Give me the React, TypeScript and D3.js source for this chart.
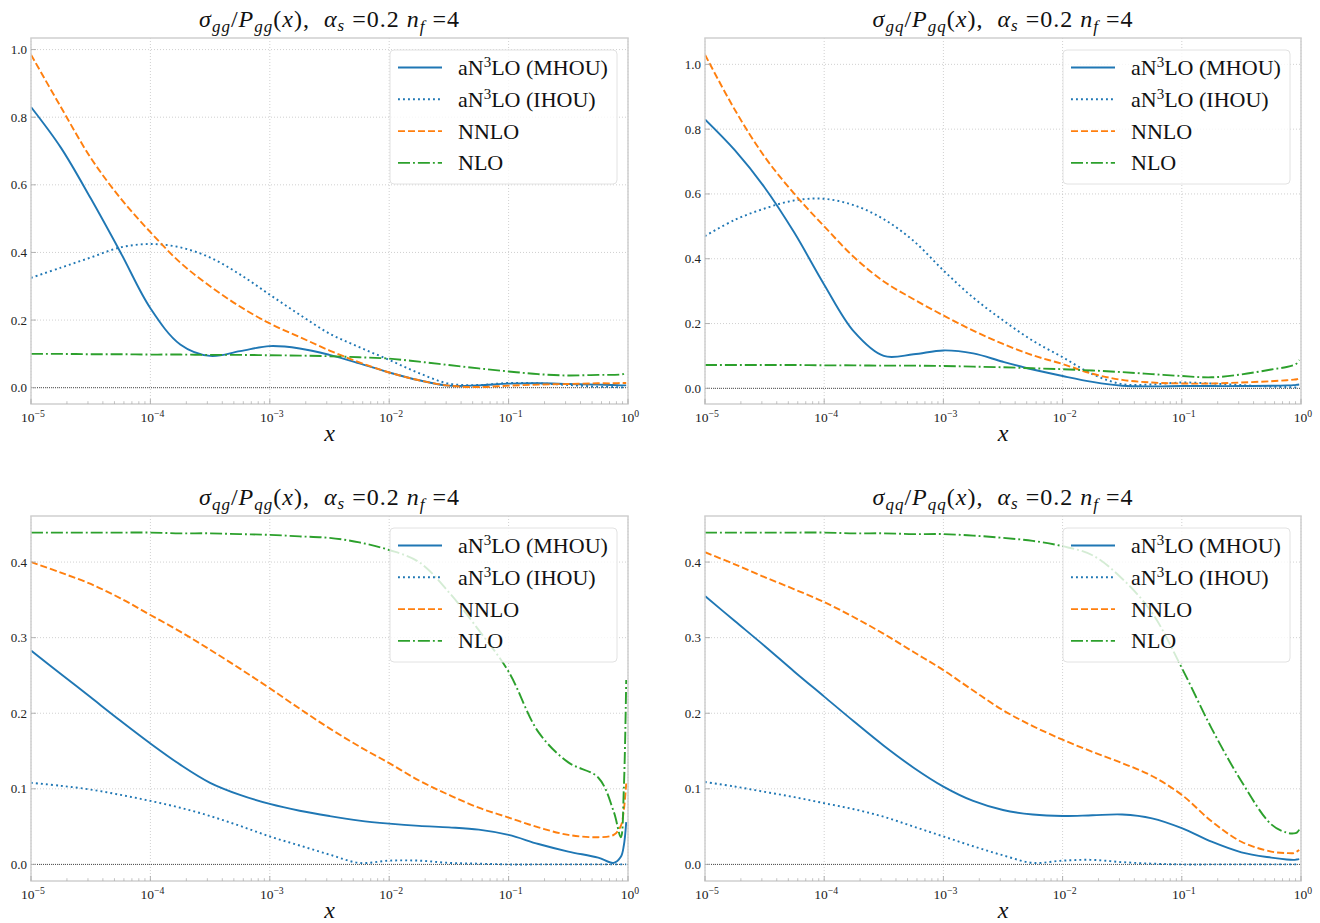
import React from 'react';
import * as d3 from 'd3';

// log10(x) sample positions of the curves
const LOGX = [-5, -4.75, -4.5, -4.25, -4, -3.75, -3.5, -3.25, -3, -2.75, -2.5, -2.25, -2, -1.75, -1.5, -1.25, -1, -0.75, -0.5, -0.25, -0.12, -0.06, -0.035, -0.015];
const X_VALUES = LOGX.map((e) => Math.pow(10, e));

// sigma_gg / P_gg
const GG_MHOU = [0.83, 0.71, 0.56, 0.40, 0.235, 0.128, 0.094, 0.108, 0.123, 0.116, 0.097, 0.072, 0.045, 0.022, 0.006, 0.007, 0.012, 0.013, 0.011, 0.009, 0.008, 0.007, 0.007, 0.007];
const GG_IHOU = [0.325, 0.355, 0.385, 0.415, 0.425, 0.415, 0.385, 0.335, 0.275, 0.216, 0.16, 0.12, 0.082, 0.043, 0.012, 0.008, 0.014, 0.013, 0.008, 0.003, 0.002, 0.001, 0.001, 0.001];
const GG_NNLO = [0.985, 0.83, 0.68, 0.56, 0.46, 0.37, 0.30, 0.24, 0.19, 0.15, 0.11, 0.075, 0.045, 0.022, 0.006, 0.002, 0.006, 0.009, 0.011, 0.013, 0.013, 0.014, 0.014, 0.014];
const GG_NLO = [0.1, 0.1, 0.099, 0.099, 0.098, 0.098, 0.097, 0.097, 0.096, 0.095, 0.093, 0.09, 0.086, 0.077, 0.067, 0.057, 0.048, 0.04, 0.036, 0.038, 0.038, 0.039, 0.041, 0.045];

// sigma_gq / P_gq
const GQ_MHOU = [0.83, 0.735, 0.62, 0.48, 0.32, 0.175, 0.10, 0.105, 0.117, 0.108, 0.082, 0.058, 0.038, 0.02, 0.008, 0.006, 0.007, 0.007, 0.007, 0.008, 0.009, 0.01, 0.011, 0.012];
const GQ_IHOU = [0.47, 0.52, 0.555, 0.58, 0.585, 0.565, 0.522, 0.455, 0.364, 0.28, 0.21, 0.147, 0.096, 0.044, 0.013, 0.012, 0.018, 0.015, 0.01, 0.005, 0.004, 0.003, 0.003, 0.003];
const GQ_NNLO = [1.03, 0.86, 0.715, 0.6, 0.5, 0.405, 0.33, 0.275, 0.225, 0.178, 0.137, 0.102, 0.075, 0.045, 0.026, 0.018, 0.015, 0.015, 0.018, 0.022, 0.025, 0.027, 0.028, 0.03];
const GQ_NLO = [0.072, 0.072, 0.072, 0.072, 0.071, 0.071, 0.07, 0.07, 0.069, 0.067, 0.065, 0.062, 0.059, 0.055, 0.05, 0.044, 0.038, 0.034, 0.043, 0.058, 0.066, 0.072, 0.077, 0.088];

// sigma_qg / P_qg
const QG_MHOU = [0.283, 0.252, 0.221, 0.19, 0.16, 0.132, 0.108, 0.092, 0.08, 0.071, 0.064, 0.058, 0.054, 0.051, 0.049, 0.046, 0.039, 0.027, 0.017, 0.009, 0.002, 0.01, 0.025, 0.056];
const QG_IHOU = [0.108, 0.104, 0.099, 0.092, 0.084, 0.075, 0.064, 0.051, 0.037, 0.025, 0.013, 0.002, 0.005, 0.005, 0.002, 0.001, 0, 0, 0, 0, 0, 0, 0, 0];
const QG_NNLO = [0.40, 0.386, 0.371, 0.352, 0.33, 0.308, 0.284, 0.259, 0.233, 0.206, 0.18, 0.156, 0.134, 0.111, 0.092, 0.075, 0.062, 0.049, 0.039, 0.036, 0.039, 0.051, 0.072, 0.107];
const QG_NLO = [0.439, 0.439, 0.439, 0.439, 0.439, 0.438, 0.438, 0.437, 0.436, 0.434, 0.432, 0.426, 0.416, 0.40, 0.36, 0.31, 0.255, 0.175, 0.135, 0.115, 0.07, 0.036, 0.10, 0.244];

// sigma_qq / P_qq
const QQ_MHOU = [0.355, 0.322, 0.289, 0.255, 0.222, 0.189, 0.157, 0.128, 0.103, 0.084, 0.072, 0.066, 0.064, 0.065, 0.066, 0.061, 0.048, 0.03, 0.016, 0.009, 0.0065, 0.006, 0.0065, 0.007];
const QQ_IHOU = [0.109, 0.103, 0.096, 0.089, 0.081, 0.073, 0.063, 0.05, 0.037, 0.024, 0.012, 0.002, 0.005, 0.006, 0.003, 0.001, 0, 0, 0, 0, 0, 0, 0, 0];
const QQ_NNLO = [0.413, 0.397, 0.38, 0.364, 0.347, 0.327, 0.305, 0.281, 0.257, 0.23, 0.204, 0.183, 0.165, 0.149, 0.134, 0.117, 0.092, 0.057, 0.03, 0.017, 0.015, 0.015, 0.017, 0.019];
const QQ_NLO = [0.439, 0.439, 0.439, 0.439, 0.439, 0.438, 0.438, 0.437, 0.437, 0.435, 0.432, 0.428, 0.421, 0.409, 0.378, 0.333, 0.26, 0.18, 0.11, 0.053, 0.042, 0.041, 0.042, 0.046];

const SERIES_LABELS = ['MHOU', 'IHOU', 'NNLO', 'NLO'];
const Y_TICKS_BIG = [0, 0.2, 0.4, 0.6, 0.8, 1.0];
const Y_TICKS_SMALL = [0, 0.1, 0.2, 0.3, 0.4];
const X_MAJOR_EXP = [-5, -4, -3, -2, -1, 0];
const PANEL_SUBS = ['gg', 'gq', 'qg', 'qq'];

const PANEL_DATA = [
  [GG_MHOU, GG_IHOU, GG_NNLO, GG_NLO],
  [GQ_MHOU, GQ_IHOU, GQ_NNLO, GQ_NLO],
  [QG_MHOU, QG_IHOU, QG_NNLO, QG_NLO],
  [QQ_MHOU, QQ_IHOU, QQ_NNLO, QQ_NLO],
];
const PANEL_YTICKS = [Y_TICKS_BIG, Y_TICKS_BIG, Y_TICKS_SMALL, Y_TICKS_SMALL];

const LAYOUT = [
  { L: 31, R: 628, T: 38, B: 404 },
  { L: 705, R: 1301, T: 38, B: 404 },
  { L: 31, R: 628, T: 516, B: 881 },
  { L: 705, R: 1301, T: 516, B: 881 },
];

const STYLES = [
  { color: '#1f77b4', dash: null, width: 1.9 },
  { color: '#1f77b4', dash: '1.9 3.1', width: 1.9 },
  { color: '#ff7f0e', dash: '7 3', width: 1.9 },
  { color: '#2ca02c', dash: '12 3 1.9 3', width: 1.9 },
];

const FONT = '"Liberation Serif", "DejaVu Serif", serif';
const FRAME = '#cfcfcf';
const GRID = '#c4c4c4';

function Sup({ base, exp, size }: { base: string; exp: string; size: number }) {
  return (
    <>
      <tspan>{base}</tspan>
      <tspan fontSize={size * 0.72} dy={-size * 0.4}>{exp}</tspan>
    </>
  );
}

function Title({ cx, y, sub }: { cx: number; y: number; sub: string }) {
  const fs = 24;
  const ss = 17;
  return (
    <text x={cx} y={y} textAnchor="middle" fontFamily={FONT} fontSize={fs} letterSpacing={1} style={{ whiteSpace: 'pre' }} fill="#111">
      <tspan fontStyle="italic">σ</tspan>
      <tspan fontStyle="italic" fontSize={ss} dy={5}>{sub}</tspan>
      <tspan dy={-5}>/</tspan>
      <tspan fontStyle="italic">P</tspan>
      <tspan fontStyle="italic" fontSize={ss} dy={5}>{sub}</tspan>
      <tspan dy={-5}>(</tspan>
      <tspan fontStyle="italic">x</tspan>
      <tspan>),  </tspan>
      <tspan fontStyle="italic">α</tspan>
      <tspan fontStyle="italic" fontSize={ss} dy={4}>s</tspan>
      <tspan dy={-4}> =0.2 </tspan>
      <tspan fontStyle="italic">n</tspan>
      <tspan fontStyle="italic" fontSize={ss} dy={5}>f</tspan>
      <tspan dy={-5}> =4</tspan>
    </text>
  );
}

function LegendLabel({ x, y, idx }: { x: number; y: number; idx: number }) {
  const fs = 22;
  if (idx < 2) {
    return (
      <text x={x} y={y} fontFamily={FONT} fontSize={fs} fill="#111" style={{ whiteSpace: 'pre' }}>
        <tspan>aN</tspan>
        <tspan fontSize={15} dy={-8}>3</tspan>
        <tspan dy={8}>{`LO (${SERIES_LABELS[idx]})`}</tspan>
      </text>
    );
  }
  return (
    <text x={x} y={y} fontFamily={FONT} fontSize={fs} fill="#111">
      {SERIES_LABELS[idx]}
    </text>
  );
}

function Panel({ i }: { i: number }) {
  const { L, R, T, B } = LAYOUT[i];
  const series = PANEL_DATA[i];
  const yTicks = PANEL_YTICKS[i];
  const all = series.flat();
  const lo = d3.min(all) as number;
  const hi = d3.max(all) as number;
  const m = (hi - lo) * 0.05;
  const x = d3.scaleLog().domain([1e-5, 1]).range([L, R]);
  const y = d3.scaleLinear().domain([lo - m, hi + m]).range([B, T]);
  const line = d3
    .line<number>()
    .x((_, k) => x(X_VALUES[k]))
    .y((d) => y(d))
    .curve(d3.curveCatmullRom.alpha(0.5));

  const minor: number[] = [];
  for (let e = -5; e < 0; e++) for (let k = 2; k <= 9; k++) minor.push(k * Math.pow(10, e));

  const clipId = `clip${i}`;
  const legW = 227;
  const legH = 134;
  const legX = R - 11 - legW;
  const legY = T + 12;

  return (
    <g>
      <defs>
        <clipPath id={clipId}>
          <rect x={L} y={T} width={R - L} height={B - T} />
        </clipPath>
      </defs>
      {/* grid */}
      {X_MAJOR_EXP.map((e) => (
        <line key={'gx' + e} x1={x(Math.pow(10, e))} x2={x(Math.pow(10, e))} y1={T} y2={B} stroke={GRID} strokeWidth={0.8} strokeDasharray="1 2" />
      ))}
      {yTicks.map((t) => (
        <line key={'gy' + t} x1={L} x2={R} y1={y(t)} y2={y(t)} stroke={GRID} strokeWidth={0.8} strokeDasharray="1 2" />
      ))}
      {/* zero line */}
      <line x1={L} x2={R} y1={y(0)} y2={y(0)} stroke="#222" strokeWidth={0.8} strokeDasharray="1 1" />
      {/* curves */}
      <g clipPath={`url(#${clipId})`}>
        {series.map((vals, k) => (
          <path
            key={k}
            d={line(vals) || ''}
            fill="none"
            stroke={STYLES[k].color}
            strokeWidth={STYLES[k].width}
            strokeDasharray={STYLES[k].dash || undefined}
          />
        ))}
      </g>
      {/* frame */}
      <rect x={L} y={T} width={R - L} height={B - T} fill="none" stroke={FRAME} strokeWidth={1.5} />
      {/* x ticks */}
      {X_MAJOR_EXP.map((e) => (
        <line key={'tx' + e} x1={x(Math.pow(10, e))} x2={x(Math.pow(10, e))} y1={B} y2={B - 5} stroke="#aaa" strokeWidth={0.9} />
      ))}
      {minor.map((v) => (
        <line key={'mx' + v} x1={x(v)} x2={x(v)} y1={B} y2={B - 2.8} stroke="#aaa" strokeWidth={0.7} />
      ))}
      {yTicks.map((t) => (
        <line key={'ty' + t} x1={L} x2={L + 5} y1={y(t)} y2={y(t)} stroke="#aaa" strokeWidth={0.9} />
      ))}
      {/* tick labels */}
      {yTicks.map((t) => (
        <text key={'ly' + t} x={L - 4} y={y(t) + 4.5} textAnchor="end" fontFamily={FONT} fontSize={13} fill="#222">
          {t.toFixed(1)}
        </text>
      ))}
      {X_MAJOR_EXP.map((e) => (
        <text key={'lx' + e} x={x(Math.pow(10, e)) + 2} y={B + 18} textAnchor="middle" fontFamily={FONT} fontSize={13.5} fill="#222">
          <Sup base="10" exp={e === 0 ? '0' : `−${-e}`} size={13.5} />
        </text>
      ))}
      {/* x label */}
      <text x={(L + R) / 2} y={B + 37} textAnchor="middle" fontFamily={FONT} fontStyle="italic" fontSize={24} fill="#111">
        x
      </text>
      <Title cx={(L + R) / 2} y={T - 11} sub={PANEL_SUBS[i]} />
      {/* legend */}
      <rect x={legX} y={legY} width={legW} height={legH} rx={4} ry={4} fill="#fff" fillOpacity={0.8} stroke="#e2e2e2" strokeWidth={1} />
      {SERIES_LABELS.map((_, k) => {
        const cy = legY + 17.5 + k * 31.8;
        return (
          <g key={'lg' + k}>
            <line
              x1={legX + 8}
              x2={legX + 52}
              y1={cy}
              y2={cy}
              stroke={STYLES[k].color}
              strokeWidth={STYLES[k].width}
              strokeDasharray={STYLES[k].dash || undefined}
            />
            <LegendLabel x={legX + 68} y={cy + 7.5} idx={k} />
          </g>
        );
      })}
    </g>
  );
}

export default function App() {
  return (
    <svg width={1320} height={923} style={{ position: 'absolute', left: 0, top: 0, background: '#fff' }}>
      <rect x={0} y={0} width={1320} height={923} fill="#fff" />
      {[0, 1, 2, 3].map((i) => (
        <Panel key={i} i={i} />
      ))}
    </svg>
  );
}
